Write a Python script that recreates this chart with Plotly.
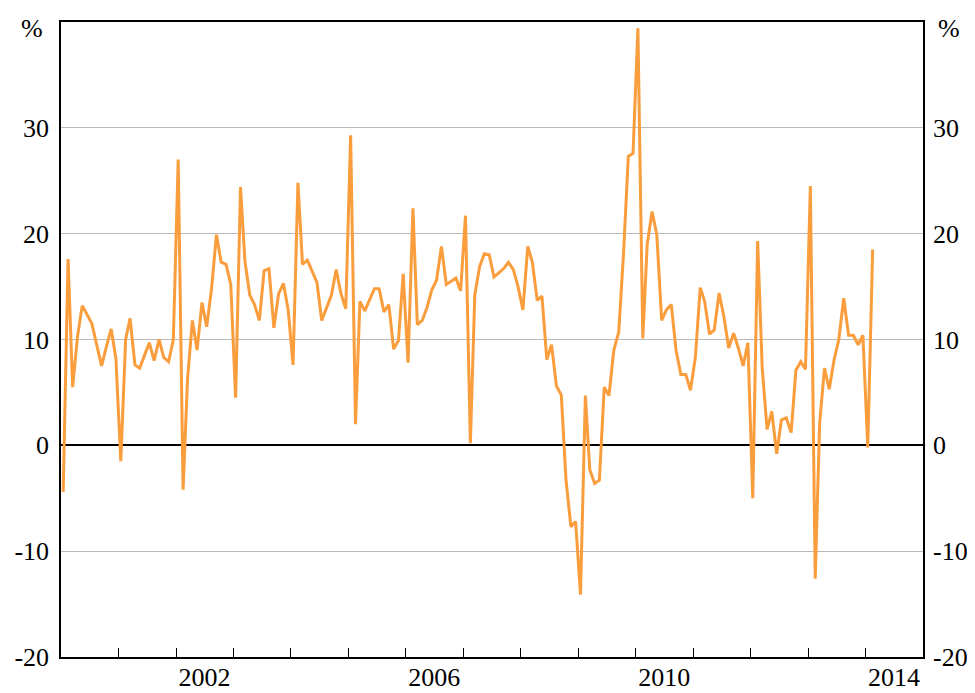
import pandas as pd
import plotly.graph_objects as go

# Year-ended percentage change, monthly, Jan 2000 - Feb 2014
values = [
    -4.4, 17.6, 5.5, 10.3, 13.2, 12.4, 11.5, 9.5, 7.5, 9.3, 11.0, 8.2,      # 2000
    -1.5, 10.0, 12.0, 7.6, 7.3, 8.5, 9.7, 8.0, 10.0, 8.3, 7.9, 10.0,        # 2001
    27.0, -4.2, 6.2, 11.8, 9.0, 13.5, 11.2, 14.8, 19.9, 17.3, 17.1, 15.2,   # 2002
    4.5, 24.4, 17.4, 14.2, 13.3, 11.8, 16.5, 16.7, 11.1, 14.3, 15.3, 12.8,  # 2003
    7.6, 24.8, 17.1, 17.5, 16.5, 15.4, 11.8, 13.1, 14.2, 16.6, 14.3, 12.9,  # 2004
    29.3, 2.0, 13.6, 12.7, 13.8, 14.8, 14.8, 12.6, 13.3, 9.1, 9.9, 16.2,    # 2005
    7.8, 22.4, 11.4, 11.8, 13.0, 14.7, 15.6, 18.8, 15.2, 15.5, 15.8, 14.6,  # 2006
    21.7, 0.2, 14.2, 16.9, 18.1, 18.0, 15.9, 16.3, 16.7, 17.3, 16.6, 15.0,  # 2007
    12.8, 18.8, 17.3, 13.7, 14.1, 8.1, 9.5, 5.6, 4.75, -3.3, -7.7, -7.2,    # 2008
    -14.1, 4.7, -2.3, -3.6, -3.3, 5.5, 4.7, 9.0, 10.7, 18.0, 27.3, 27.6,    # 2009
    39.4, 10.1, 19.0, 22.1, 19.9, 11.8, 12.8, 13.3, 8.9, 6.7, 6.7, 5.2,     # 2010
    8.3, 14.9, 13.6, 10.5, 10.9, 14.4, 12.2, 9.2, 10.6, 9.2, 7.5, 9.7,      # 2011
    -5.0, 19.3, 7.3, 1.5, 3.2, -0.8, 2.4, 2.6, 1.2, 7.1, 7.9, 7.2,          # 2012
    24.5, -12.6, 2.1, 7.3, 5.3, 8.1, 10.0, 13.9, 10.4, 10.4, 9.5, 10.4,     # 2013
    -0.2, 18.5,                                                             # 2014
]
start_month = "2000-01-01"
dates = pd.date_range(start_month, periods=len(values), freq="MS") + pd.Timedelta(days=14)

year_label_vals = ["2002-07-01", "2006-07-01", "2010-07-01", "2014-07-01"]
year_label_text = ["2002", "2006", "2010", "2014"]
year_ticks = [f"{y}-01-01" for y in range(2001, 2015)]
y_ticks = [-20, -10, 0, 10, 20, 30]
y_tick_text = ["-20", "-10", "0", "10", "20", "30"]

LINE = "#F99D3D"
FONT = "Liberation Serif"
TICKFONT = dict(family=FONT, size=26, color="black")

fig = go.Figure()
fig.add_trace(go.Scatter(x=dates, y=values, mode="lines",
                         line=dict(color=LINE, width=3), showlegend=False,
                         hoverinfo="x+y"))
fig.add_trace(go.Scatter(x=dates, y=values, mode="lines", yaxis="y2",
                         line=dict(color="rgba(0,0,0,0)", width=0),
                         showlegend=False, hoverinfo="skip"))

fig.update_layout(
    width=975, height=693,
    margin=dict(l=53, r=60, t=14, b=44),
    paper_bgcolor="white", plot_bgcolor="white",
    font=dict(family=FONT, size=26, color="black"),
    xaxis=dict(
        type="date", range=["2000-01-01", "2015-01-01"], automargin=False,
        tickmode="array", tickvals=year_label_vals, ticktext=year_label_text,
        tickfont=TICKFONT,
        ticks="", showgrid=False, zeroline=False,
        showline=True, mirror=True, linecolor="black", linewidth=1.5,
        ticklabelstandoff=-4,
        minor=dict(tickmode="array", tickvals=year_ticks, ticks="inside",
                   ticklen=9, tickwidth=1, tickcolor="black", showgrid=False),
    ),
    yaxis=dict(
        range=[-20, 40], automargin=False,
        tickmode="array", tickvals=y_ticks, ticktext=y_tick_text,
        tickfont=TICKFONT,
        ticks="", showgrid=True, gridcolor="#b8b8b8", gridwidth=1,
        zeroline=True, zerolinecolor="black", zerolinewidth=1.5,
        showline=True, mirror=True, linecolor="black", linewidth=1.5,
        ticklabelstandoff=5,
    ),
    yaxis2=dict(
        range=[-20, 40], overlaying="y", side="right", automargin=False,
        tickmode="array", tickvals=y_ticks, ticktext=y_tick_text,
        tickfont=TICKFONT,
        ticks="", showgrid=False, zeroline=False, showline=False,
        ticklabelstandoff=9,
    ),
    annotations=[
        dict(text="%", xref="paper", yref="paper", x=0, y=1, xanchor="center",
             yanchor="middle", xshift=-29, yshift=-6, showarrow=False,
             font=dict(family=FONT, size=26)),
        dict(text="%", xref="paper", yref="paper", x=1, y=1, xanchor="center",
             yanchor="middle", xshift=26, yshift=-6, showarrow=False,
             font=dict(family=FONT, size=26)),
    ],
)

fig.write_html("out.html")
